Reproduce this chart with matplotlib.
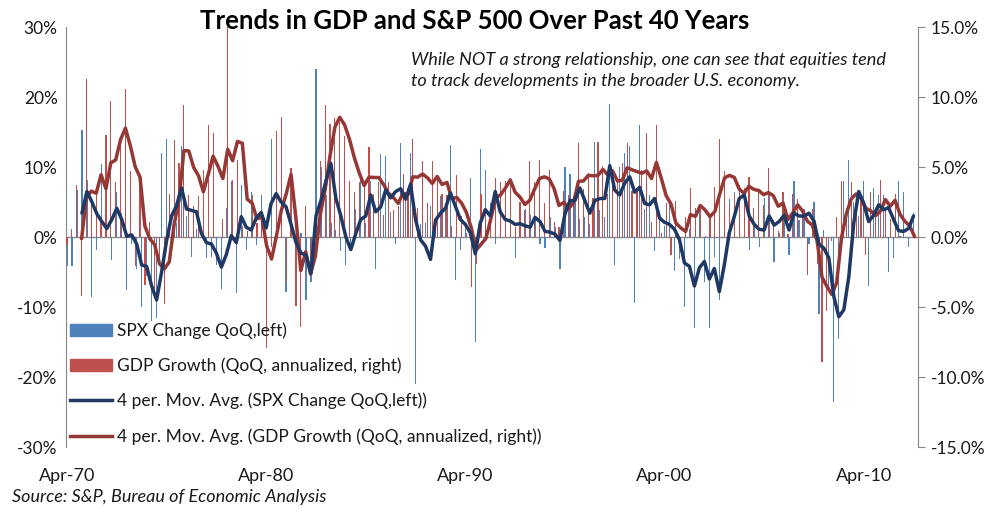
import numpy as np
import pandas as pd
import matplotlib
matplotlib.use("Agg")
import matplotlib.pyplot as plt
from matplotlib.patches import Patch
from matplotlib.lines import Line2D
from matplotlib.ticker import FuncFormatter

plt.rcParams['font.family'] = ['Lato', 'DejaVu Sans']

nan = np.nan

# ---------------- data ----------------
# S&P 500 change QoQ in %, Q2 1970 .. Q4 2012 (left axis)
spx_change = [
    -4.2, -4.2, 6.7,                # 1970
    15.3, 8.2, -8.5, -1.8,          # 1971
    10.5, 4.6, -3.3, 6.5,           # 1972
    3.5, -7.5, -1.0, -4.5,          # 1973
    -10.0, -5.5, -12.0, -11.5,      # 1974
    12.0, 14.0, -2.0, 2.0,          # 1975
    13.0, 3.0, -2.8, 1.2,           # 1976
    0.6, -3.0, -2.8, -4.0,          # 1977
    -7.4, 4.2, 8.0, -8.0,           # 1978
    7.4, -1.8, 6.4, -1.2,           # 1979
    6.0, -5.0, 14.0, 9.8,           # 1980
    1.2, -7.8, 4.0, -6.0,           # 1981
    0.6, -9.0, -6.4, 24.0,          # 1982
    10.0, 6.0, 2.0, 1.0,            # 1983
    -2.0, -4.0, -2.0, 4.0,          # 1984
    9.0, 2.0, 8.0, -4.6,            # 1985
    11.8, 11.6, 3.6, -1.0,          # 1986
    13.4, 5.6, 12.0, -21.0,         # 1987
    1.8, 2.0, 4.4, 1.4,             # 1988
    5.8, 4.8, 13.2, -6.2,           # 1989
    -1.8, 2.0, 8.4, -15.0,          # 1990
    12.6, 9.6, 4.8, -1.0,           # 1991
    1.0, 5.2, 4.0, -3.0,            # 1992
    1.4, 4.0, 3.2, 2.6,             # 1993
    -1.0, -1.6, 2.8, 1.4,           # 1994
    -4.6, 10.0, 9.0, 6.4,           # 1995
    2.6, 2.8, 1.8, 13.6,            # 1996
    3.8, 2.8, 19.0, -4.0,           # 1997
    10.0, 12.0, 13.0, -9.4,         # 1998
    16.0, 4.0, 6.0, -2.0,           # 1999
    2.8, 1.6, 4.8, -4.8,            # 2000
    -3.2, -10.0, 1.2, -13.0,        # 2001
    4.2, -6.4, -13.0, -2.8,         # 2002
    -9.0, 8.8, 5.4, 6.4,            # 2003
    1.4, 6.0, -1.8, 1.6,            # 2004
    -1.4, 5.6, 6.2, -3.6,           # 2005
    0.6, 4.0, -2.5, 8.0,            # 2006
    2.5, 4.0, -1.0, 5.0,            # 2007
    -11.0, 1.0, -7.0, -23.5,        # 2008
    -14.5, 8.0, 11.0, 5.0,          # 2009
    3.0, 8.0, -7.0, 7.0,            # 2010
    6.0, 6.0, -5.0, -3.0,           # 2011
    8.0, 6.5, -1.4, 3.5,            # 2012
]

# 4 per. moving average of the SPX change as drawn (left axis)
spx_ma = [
    nan, nan, nan,
    3.4, 6.5, 5.0, 3.3,
    2.2, 1.2, 2.5, 4.1,
    2.5, 0.1, 0.3, -1.0,
    -4.0, -4.2, -7.0, -9.0,
    -5.0, -0.5, 3.0, 4.5,
    7.0, 4.0, 3.8, 3.6,
    0.5, -0.8, -1.0, -2.3,
    -4.3, -2.5, 0.2, -0.8,
    2.9, 1.4, 1.0, 2.7,
    3.5, 1.3, 4.8, 6.2,
    5.0, 4.3, 1.8, -0.8,
    -2.3, -2.6, -5.2, 3.0,
    5.2, 8.0, 10.5, 5.5,
    3.0, 0.0, -1.8, 0.5,
    2.5, 3.0, 6.0, 3.6,
    4.3, 6.7, 5.6, 6.5,
    6.9, 5.4, 7.5, 2.5,
    -0.4, -1.3, -3.2, 2.4,
    3.4, 4.1, 6.3, 4.4,
    2.5, 1.8, 0.6, -2.4,
    2.0, 3.9, 3.0, 6.5,
    3.6, 2.5, 2.3, 1.8,
    1.9, 1.6, 1.4, 2.8,
    2.2, 0.8, 0.7, 0.4,
    -0.5, 3.3, 5.2, 5.2,
    7.0, 5.2, 3.4, 5.2,
    5.5, 5.5, 10.2, 6.7,
    6.0, 7.7, 8.6, 6.4,
    7.1, 4.8, 4.6, 5.5,
    2.7, 2.1, 1.8, 1.1,
    -0.4, -3.7, -4.2, -7.0,
    -4.4, -3.5, -6.0, -4.5,
    -7.8, -4.0, 0.6, 2.9,
    5.5, 6.0, 3.0, 1.8,
    1.1, 1.0, 3.0, 1.7,
    2.2, 3.1, 1.0, 3.4,
    3.0, 3.0, 3.4, 2.3,
    -1.0, -1.6, -3.0, -8.5,
    -11.4, -10.4, -5.7, 2.0,
    6.5, 4.8, 2.2, 3.1,
    4.6, 3.9, 4.2, 2.5,
    0.9, 0.8, 1.2, 3.0,
]

# real GDP growth, QoQ annualized %, Q1 1970 .. Q4 2012 + 3 empty quarters (right axis)
gdp_growth = [
    -0.6, 0.6, 3.7, -4.2,           # 1970
    11.3, 2.3, 3.1, 1.1,            # 1971
    7.3, 9.7, 3.9, 6.9,             # 1972
    10.6, 4.7, -2.1, 3.9,           # 1973
    -3.4, 1.1, -3.8, -1.6,          # 1974
    -4.8, 3.1, 6.9, 5.3,            # 1975
    9.4, 3.0, 2.2, 2.9,             # 1976
    4.8, 8.0, 7.4, 0.0,             # 1977
    1.3, 16.4, 4.1, 5.5,            # 1978
    0.8, 0.4, 3.0, 1.0,             # 1979
    1.3, -7.9, -0.7, 7.6,           # 1980
    8.6, -3.2, 4.9, -4.9,           # 1981
    -6.4, 2.2, -1.5, 0.3,           # 1982
    5.4, 9.4, 8.1, 8.5,             # 1983
    8.2, 7.2, 4.0, 3.2,             # 1984
    3.9, 3.6, 6.4, 3.1,             # 1985
    3.9, 1.6, 3.9, 1.9,             # 1986
    2.2, 4.5, 3.5, 7.0,             # 1987
    2.1, 5.4, 2.4, 5.4,             # 1988
    4.1, 3.1, 3.0, 0.8,             # 1989
    4.4, 1.5, 0.3, -3.6,            # 1990
    -1.9, 3.1, 2.0, 1.9,            # 1991
    4.2, 3.9, 4.0, 4.2,             # 1992
    0.7, 2.5, 1.9, 5.4,             # 1993
    3.9, 5.5, 2.4, 4.8,             # 1994
    1.1, 0.7, 3.3, 3.0,             # 1995
    2.9, 6.7, 3.4, 4.6,             # 1996
    2.8, 6.8, 5.1, 3.1,             # 1997
    3.9, 3.9, 5.3, 6.7,             # 1998
    3.3, 3.4, 4.8, 7.4,             # 1999
    1.1, 8.0, 0.3, 2.4,             # 2000
    -1.3, 2.6, -1.1, 1.4,           # 2001
    3.5, 2.1, 2.0, 0.1,             # 2002
    1.6, 3.6, 7.0, 4.7,             # 2003
    2.3, 3.0, 3.7, 3.5,             # 2004
    4.3, 2.1, 3.4, 2.3,             # 2005
    4.9, 1.2, 0.4, 3.2,             # 2006
    0.2, 3.1, 2.7, 1.4,             # 2007
    -2.7, 2.0, -1.9, -8.9,          # 2008
    -5.3, -0.3, 1.4, 4.0,           # 2009
    1.6, 3.9, 2.8, 2.8,             # 2010
    -1.3, 3.2, 1.4, 4.1,            # 2011
    2.0, 1.3, 3.1, 0.1,             # 2012
    0.0, 0.0, 0.0,                  # empty rows
]

spx_dates = pd.date_range("1970-04-01", periods=len(spx_change), freq="QS")
label_pos = [0, 40, 80, 120, 160]
left_ticks = [-30, -20, -10, 0, 10, 20, 30]
right_ticks = [-15, -10, -5, 0, 5, 10, 15]

gdp_ma = pd.Series(gdp_growth).rolling(4).mean()  # 4 per. moving average

# colours
c_spx = "#4F81BD"
c_gdp = "#C0504D"
c_spx_ma = "#1F3864"
c_gdp_ma = "#953735"
c_axis = "#868686"
c_text = "#1a1a1a"

# ---------------- figure ----------------
fig = plt.figure(figsize=(9.97, 5.16), dpi=100)
rect = [66 / 997, 69 / 516, 852 / 997, 420 / 516]

ax_b = fig.add_axes(rect, label="spx")
ax_r = fig.add_axes(rect, label="gdp", facecolor="none")
ax_m = fig.add_axes(rect, label="spx_ma", facecolor="none")

xb = np.arange(len(spx_change))
xr = np.arange(len(gdp_growth))

# primary: SPX bars
ax_b.bar(xb, spx_change, width=0.24, color=c_spx, linewidth=0)
ax_b.axhline(0, color=c_axis, lw=1, zorder=0)
ax_b.set_xlim(-0.2, 170.9)
ax_b.set_ylim(-30, 30)
ax_b.set_yticks(left_ticks)
ax_b.yaxis.set_major_formatter(FuncFormatter(lambda v, p: f"{v:.0f}%"))
ax_b.set_xticks(label_pos)
ax_b.set_xticklabels([spx_dates[p].strftime("%b-%y") for p in label_pos])
ax_b.tick_params(axis="x", length=0, pad=15, labelsize=13, colors=c_text)
ax_b.tick_params(axis="y", length=0, labelsize=12.5, labelcolor=c_text, pad=6)
for s in ["top", "right", "bottom"]:
    ax_b.spines[s].set_visible(False)
ax_b.spines["left"].set_color(c_axis)

# secondary: GDP bars + moving average
ax_r.bar(xr, gdp_growth, width=0.24, color=c_gdp, linewidth=0)
ax_r.plot(xr, gdp_ma, color=c_gdp_ma, lw=2.5, solid_capstyle="round")
ax_r.set_xlim(-0.2, 174.7)
ax_r.set_ylim(-15, 15)
ax_r.yaxis.tick_right()
ax_r.set_yticks(right_ticks)
ax_r.yaxis.set_major_formatter(FuncFormatter(lambda v, p: f"{v:.1f}%"))
ax_r.tick_params(axis="y", length=5, color=c_axis, labelsize=12.5, labelcolor=c_text, pad=4)
ax_r.xaxis.set_visible(False)
for s in ["top", "left", "bottom"]:
    ax_r.spines[s].set_visible(False)
ax_r.spines["right"].set_color(c_axis)

# SPX moving average on top
ax_m.plot(xb, spx_ma, color=c_spx_ma, lw=2.5, solid_capstyle="round")
ax_m.set_xlim(ax_b.get_xlim())
ax_m.set_ylim(ax_b.get_ylim())
ax_m.axis("off")

handles = [
    Patch(color=c_spx),
    Patch(color=c_gdp),
    Line2D([], [], color=c_spx_ma, lw=2.5),
    Line2D([], [], color=c_gdp_ma, lw=2.5),
]
labels = [
    "SPX Change QoQ,left)",
    "GDP Growth (QoQ, annualized, right)",
    "4 per. Mov. Avg. (SPX Change QoQ,left))",
    "4 per. Mov. Avg. (GDP Growth (QoQ, annualized, right))",
]
ax_m.legend(handles, labels, loc="upper left", bbox_to_anchor=(0.005, 0.297),
            frameon=False, fontsize=12.5, handlelength=2.4, handleheight=0.7,
            labelspacing=1.08, handletextpad=0.3, borderaxespad=0, borderpad=0,
            labelcolor=c_text)

fig.text(475 / 997, 1 - 21 / 516, "Trends in GDP and S&P 500 Over Past 40 Years",
         ha="center", va="center", fontsize=18.5, fontweight="bold", color="black")
fig.text(411 / 997, 1 - 52 / 516,
         "While NOT a strong relationship, one can see that equities tend\n"
         "to track developments in the broader U.S. economy.",
         ha="left", va="top", fontsize=13.1, style="italic", color=c_text, linespacing=1.4)
fig.text(12 / 997, 1 - 497 / 516, "Source: S&P, Bureau of Economic Analysis",
         ha="left", va="center", fontsize=13, style="italic", color=c_text)

fig.savefig("out.png", dpi=100)
